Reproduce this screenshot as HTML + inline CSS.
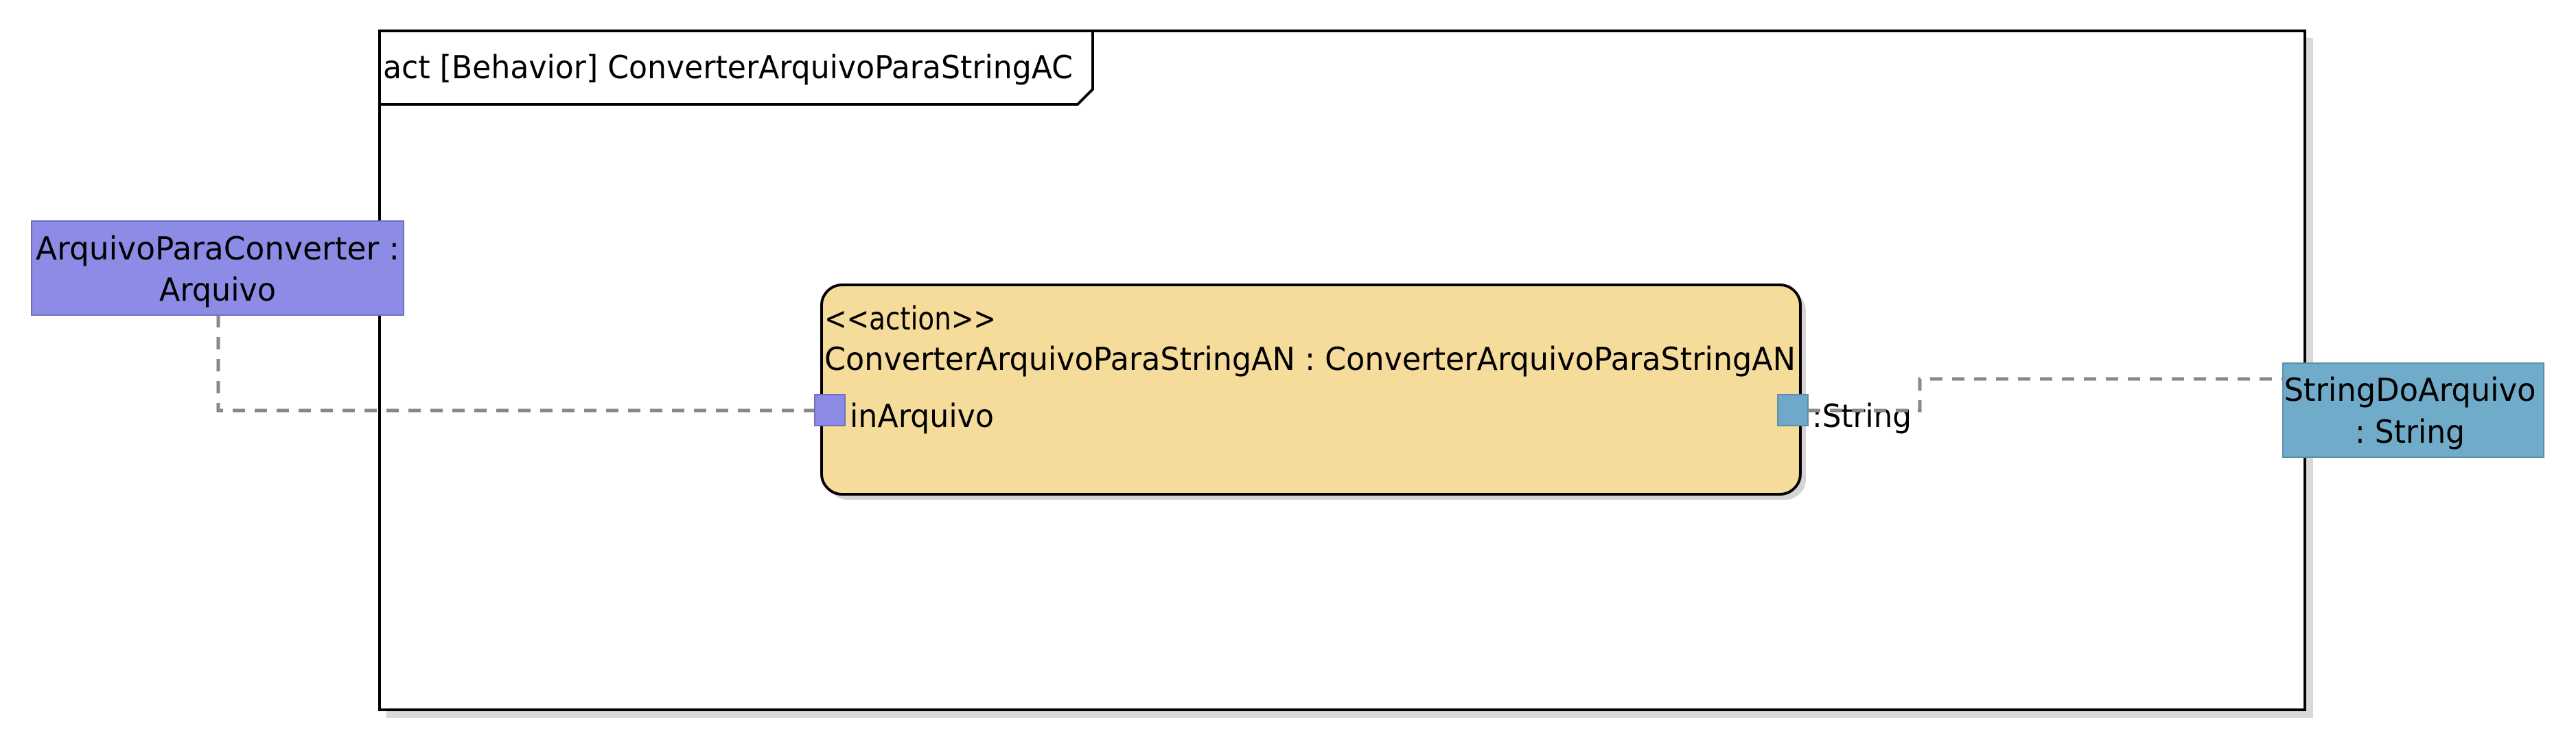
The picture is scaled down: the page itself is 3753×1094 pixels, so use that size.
<!DOCTYPE html>
<html><head><meta charset="utf-8"><style>html,body{margin:0;padding:0;background:#fff}svg{display:block}</style></head>
<body>
<svg width="3753" height="1094" viewBox="0 0 3753 1094" xmlns="http://www.w3.org/2000/svg" font-family="'DejaVu Sans','Liberation Sans',sans-serif" font-size="46">
<path d="M3360 55 L3370 55 L3370 1046 L563 1046 L563 1036 L3360 1036 Z" fill="#d9d9d9"/>
<rect x="553" y="45" width="2805" height="989" fill="#fff" stroke="#000" stroke-width="4"/>
<path d="M553 152 L1570 152 L1592 130 L1592 45" fill="none" stroke="#000" stroke-width="4"/>
<text x="558" y="114" textLength="1005" lengthAdjust="spacingAndGlyphs">act [Behavior] ConverterArquivoParaStringAC</text>
<path d="M318 459 L318 598 L1187 598" fill="none" stroke="#888" stroke-width="5" stroke-dasharray="18 14"/>
<rect x="1205" y="423" width="1426" height="305" rx="30" fill="#d4d4d4"/>
<rect x="1197" y="415" width="1426" height="305" rx="30" fill="#f5dc9b" stroke="#000" stroke-width="4"/>
<text x="1201" y="480" textLength="250" lengthAdjust="spacingAndGlyphs">&lt;&lt;action&gt;&gt;</text>
<text x="1201" y="539" textLength="1415" lengthAdjust="spacingAndGlyphs">ConverterArquivoParaStringAN : ConverterArquivoParaStringAN</text>
<rect x="1187" y="575" width="44" height="45" fill="#8b8be6" stroke="#6f6fc0" stroke-width="2"/>
<text x="1238" y="622" textLength="210" lengthAdjust="spacingAndGlyphs">inArquivo</text>
<rect x="2590" y="575" width="44" height="45" fill="#6fa8c8" stroke="#5a8eab" stroke-width="2"/>
<text x="2640" y="622" textLength="145" lengthAdjust="spacingAndGlyphs">:String</text>
<path d="M2634 598 L2797 598 L2797 552 L3326 552" fill="none" stroke="#888" stroke-width="5" stroke-dasharray="18 14"/>
<rect x="46" y="322" width="542" height="137" fill="#8c8ce6" stroke="#6f6fc0" stroke-width="2"/>
<text x="317" y="378" text-anchor="middle" textLength="530" lengthAdjust="spacingAndGlyphs">ArquivoParaConverter :</text>
<text x="317" y="438" text-anchor="middle" textLength="170" lengthAdjust="spacingAndGlyphs">Arquivo</text>
<rect x="3326" y="529" width="380" height="137" fill="#70abc9" stroke="#5a8eab" stroke-width="2"/>
<text x="3511" y="584" text-anchor="middle" textLength="367" lengthAdjust="spacingAndGlyphs">StringDoArquivo</text>
<text x="3511" y="645" text-anchor="middle" textLength="160" lengthAdjust="spacingAndGlyphs">: String</text>
</svg>
</body></html>
